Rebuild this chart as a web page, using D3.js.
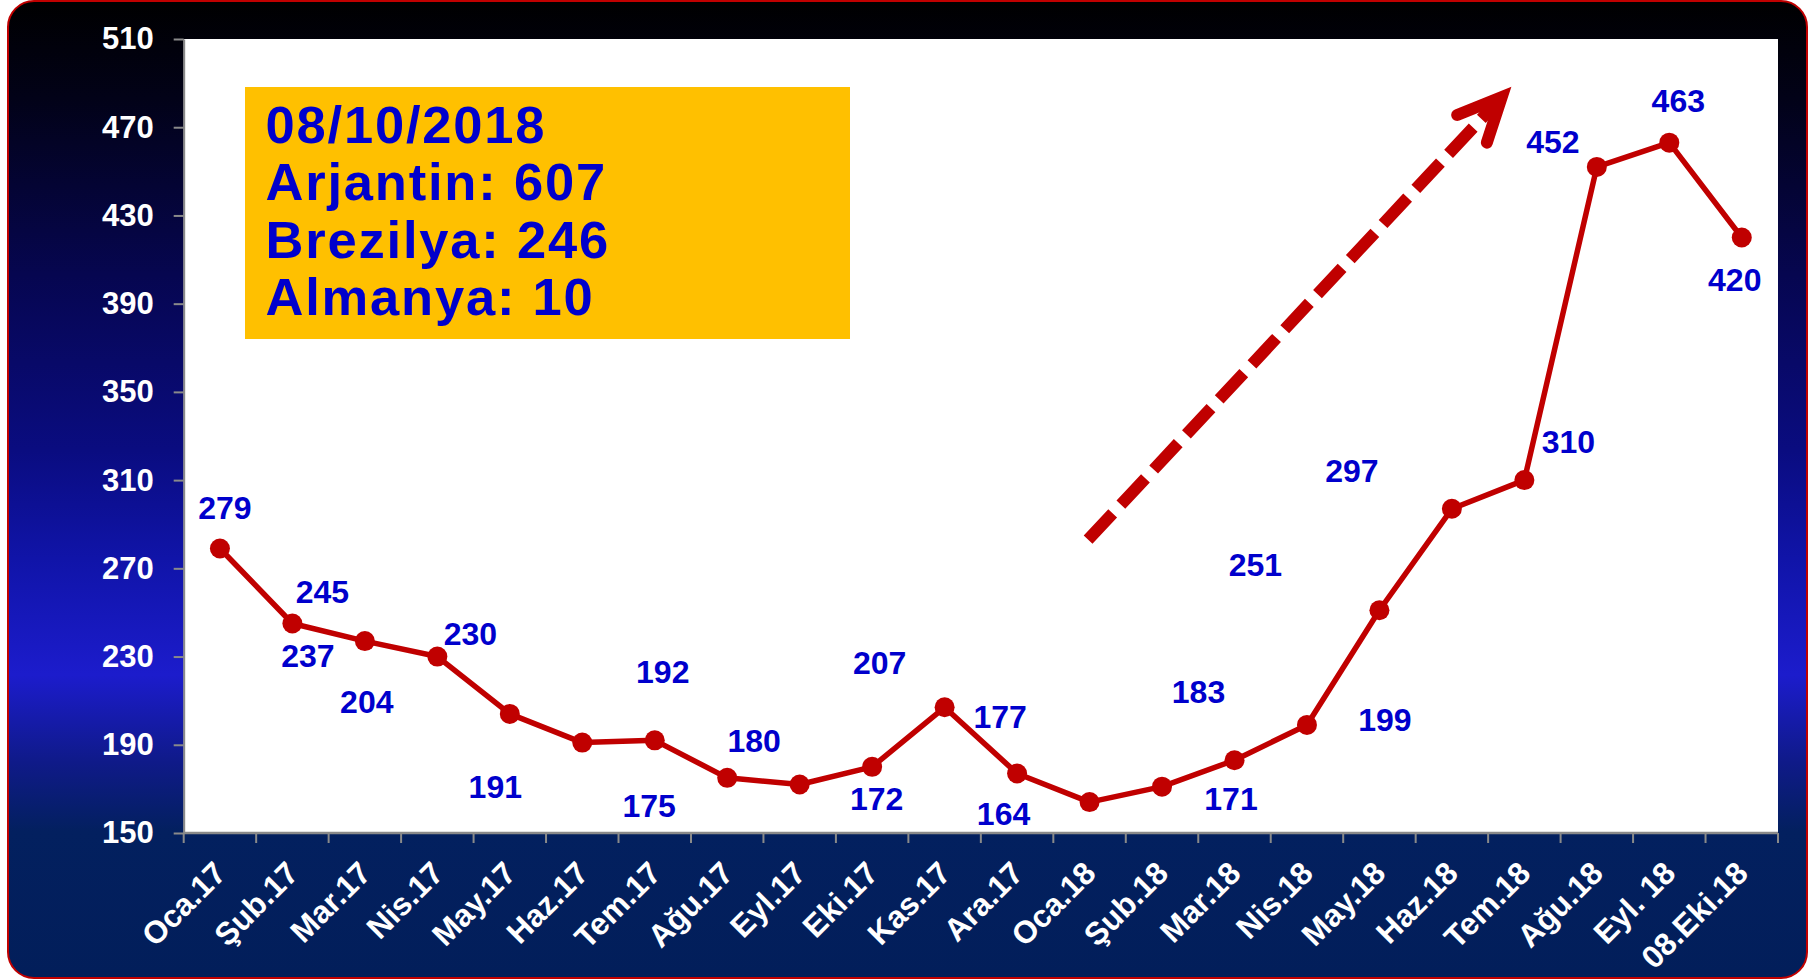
<!DOCTYPE html>
<html>
<head>
<meta charset="utf-8">
<script src="https://cdn.jsdelivr.net/npm/d3@7"></script>
<style>
  html, body { margin: 0; padding: 0; background: #ffffff; }
  svg { display: block; }
  text { font-family: "Liberation Sans", Arial, Helvetica, sans-serif; font-weight: bold; }
</style>
</head>
<body>
<svg id="chart" width="1810" height="980"></svg>
<script>
// ---------- data ----------
const categories = ["Oca.17","Şub.17","Mar.17","Nis.17","May.17","Haz.17","Tem.17","Ağu.17","Eyl.17","Eki.17","Kas.17","Ara.17",
                    "Oca.18","Şub.18","Mar.18","Nis.18","May.18","Haz.18","Tem.18","Ağu.18","Eyl. 18","08.Eki.18"];
const values = [279,245,237,230,204,191,192,175,172,180,207,177,164,171,183,199,251,297,310,452,463,420];
const yTicks = [150,190,230,270,310,350,390,430,470,510];
const infoLines = ["08/10/2018","Arjantin: 607","Brezilya: 246","Almanya: 10"];
// label placement offsets (px) from each point, as manually placed in the original
const labelOffsets = [[5,-41],[30,-32],[-57,14],[33,-23],[-143,-12],[-87,44],[8,-69],[-78,28],[77,14],[-118,-26],
                      [-65,-45],[-17,-57],[-86,11],[69,12],[-36,-69],[78,-5],[-124,-46],[-100,-38],[44,-39],[-44,-25],[9,-42],[-7,42]];
// trend arrow in data space: [category index position, value]
const arrowFrom = [12.48, 283];
const arrowTo = [18.31, 488];

// ---------- layout ----------
const W = 1810, H = 980;
const plot = {left: 183.7, top: 39, right: 1778, bottom: 833};
const red = "#c00000", labelBlue = "#0000cc", axisGray = "#8a8a8a";

const svg = d3.select("#chart");
const defs = svg.append("defs");
const grad = defs.append("linearGradient").attr("id","bg")
  .attr("gradientUnits","userSpaceOnUse").attr("x1",0).attr("y1",1).attr("x2",0).attr("y2",978);
[[0,"#000000"],[0.1,"#020218"],[0.28,"#060650"],[0.46,"#0a0c80"],[0.57,"#1014a8"],[0.69,"#1c1ccc"],
 [0.78,"#0f1a88"],[0.85,"#03205f"],[1,"#021e5a"]].forEach(([o,c]) =>
  grad.append("stop").attr("offset",o).attr("stop-color",c));

svg.append("rect").attr("x",8).attr("y",1).attr("width",1799).attr("height",977)
  .attr("rx",26).attr("ry",26).attr("fill","url(#bg)").attr("stroke",red).attr("stroke-width",2);

svg.append("rect").attr("x",plot.left).attr("y",plot.top)
  .attr("width",plot.right-plot.left).attr("height",plot.bottom-plot.top).attr("fill","#ffffff");

// ---------- scales ----------
const x = d3.scaleBand().domain(categories).range([plot.left, plot.right]).padding(0);
const y = d3.scaleLinear().domain([150,510]).range([plot.bottom, plot.top]);
const xi = d3.scaleLinear().domain([0, categories.length]).range([plot.left, plot.right]);
const cx = c => x(c) + x.bandwidth()/2;

// ---------- y axis ----------
const yAxis = svg.append("g").attr("transform",`translate(${plot.left},0)`)
  .call(d3.axisLeft(y).tickValues(yTicks).tickSize(10).tickSizeOuter(0).tickPadding(20));
yAxis.select(".domain").attr("stroke",axisGray).attr("stroke-width",2);
yAxis.selectAll(".tick line").attr("stroke",axisGray).attr("stroke-width",2);
yAxis.selectAll(".tick text").attr("fill","#ffffff").attr("font-size",31)
  .attr("font-family","'Liberation Sans', Arial, sans-serif").attr("font-weight","bold");

// ---------- x axis ----------
const xAxis = svg.append("g");
xAxis.append("line").attr("x1",plot.left).attr("x2",plot.right).attr("y1",plot.bottom).attr("y2",plot.bottom)
  .attr("stroke",axisGray).attr("stroke-width",2.5);
xAxis.selectAll(".xt").data(d3.range(categories.length+1)).join("line").attr("class","xt")
  .attr("x1",d=>xi(d)).attr("x2",d=>xi(d)).attr("y1",plot.bottom).attr("y2",plot.bottom+10)
  .attr("stroke",axisGray).attr("stroke-width",2);
xAxis.selectAll(".xl").data(categories).join("text").attr("class","xl")
  .attr("transform",d=>`translate(${cx(d)-8},${plot.bottom+26}) rotate(-45)`)
  .attr("text-anchor","end").attr("dy","0.72em")
  .attr("fill","#ffffff").attr("font-size",31.5).text(d=>d);

// ---------- info box ----------
svg.append("rect").attr("x",245).attr("y",87).attr("width",605).attr("height",252).attr("fill","#ffc000");
svg.append("g").selectAll("text").data(infoLines).join("text")
  .attr("x",265.5).attr("y",(d,i)=>142.7 + i*57.4)
  .attr("fill",labelBlue).attr("font-size",52.5).attr("letter-spacing","1.8px").text(d=>d);

// ---------- arrow ----------
const ax1 = xi(arrowFrom[0]), ay1 = y(arrowFrom[1]), ax2 = xi(arrowTo[0]), ay2 = y(arrowTo[1]);
const ang = Math.atan2(ay1-ay2, ax1-ax2);
const tipX = ax2 + Math.cos(ang)*13, tipY = ay2 + Math.sin(ang)*13;
const barb = 48, spread = 25*Math.PI/180;
svg.append("line").attr("x1",ax1).attr("y1",ay1)
  .attr("x2",tipX + Math.cos(ang)*6).attr("y2",tipY + Math.sin(ang)*6)
  .attr("stroke",red).attr("stroke-width",12).attr("stroke-dasharray","36,12");
svg.append("path")
  .attr("d",`M${tipX+Math.cos(ang+spread)*barb},${tipY+Math.sin(ang+spread)*barb}L${tipX},${tipY}L${tipX+Math.cos(ang-spread)*barb},${tipY+Math.sin(ang-spread)*barb}`)
  .attr("fill","none").attr("stroke",red).attr("stroke-width",12)
  .attr("stroke-linecap","round").attr("stroke-linejoin","miter").attr("stroke-miterlimit",10);

// ---------- series ----------
const pts = categories.map((c,i)=>({c, v: values[i], i}));
svg.append("path").datum(pts)
  .attr("d", d3.line().x(d=>cx(d.c)).y(d=>y(d.v)))
  .attr("fill","none").attr("stroke",red).attr("stroke-width",5.5).attr("stroke-linejoin","round");
svg.append("g").selectAll("circle").data(pts).join("circle")
  .attr("cx",d=>cx(d.c)).attr("cy",d=>y(d.v)).attr("r",10).attr("fill",red);

// ---------- data labels ----------
svg.append("g").selectAll("text").data(pts).join("text")
  .attr("x",d=>cx(d.c)+labelOffsets[d.i][0]).attr("y",d=>y(d.v)+labelOffsets[d.i][1])
  .attr("dy","0.36em").attr("text-anchor","middle")
  .attr("fill",labelBlue).attr("font-size",32).text(d=>d.v);
</script>
</body>
</html>
